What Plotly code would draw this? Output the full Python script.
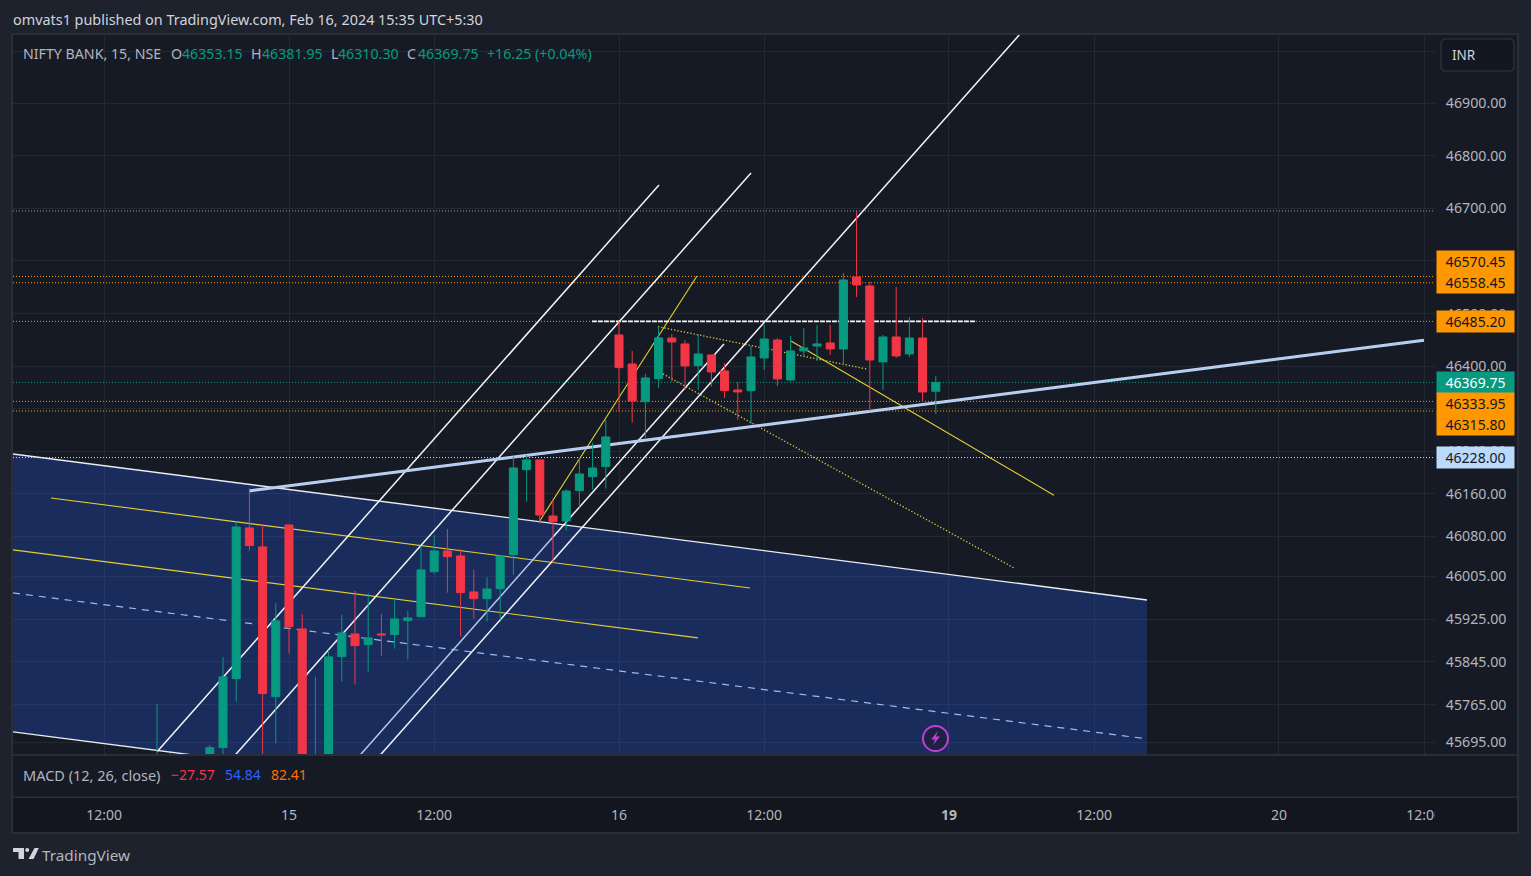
import numpy as np
import plotly.graph_objects as go

W, H = 1531, 876
FONT = "Noto Sans"

# ---------- data ----------
bar_index = list(range(-10, 50))
opens = [45550,45630,45610,45620,45620,45685.2,45813.7,46095.7,46060.1,45780,46101.3,45906.5,45640,45665,
         45854.8,45897.2,45877.2,45897.2,45895.9,45922,45929.5,46013.6,46052.6,46043.2,45975.7,45963.1,45981.9,
         46045.6,46205.3,46223.6,46118.2,46108.8,46165.7,46192.1,46211,46459.5,46404.7,46333.4,46376.9,46453.8,
         46442.5,46401.5,46421.7,46391.5,46355.5,46354.2,46416,46450,46374.4,46429.3,46438.7,46444.4,46433,
         46569.4,46552.3,46408.5,46455.7,46423.6,46453.8,46353.15]
highs = [45766.5,45675,45640,45650,45690,45853.7,46107.5,46170.2,46103.2,45954.5,46101.3,45934.5,45816.9,45867.3,
         45932.7,45977.6,45973.3,45934.5,45960.7,45940.2,46062.5,46082.2,46093.4,46055.8,46017,46003.3,46043.2,
         46229.8,46233,46223.6,46148.2,46168.4,46227.3,46256.2,46298.9,46486,46429.3,46385.8,46472.8,46461.4,
         46450,46460.8,46421.7,46406,46370,46438.7,46478.4,46453.8,46457.6,46472.8,46478.4,46478.4,46577,
         46694.8,46559.9,46459.5,46550.4,46493.5,46491.7,46381.95]
lows = [45520,45580,45590,45590,45600,45650,45770.7,46053.1,45660,45692.6,45860.4,45640,45620,45650,
        45808.1,45802.5,45826.8,45856.6,45869.7,45849.2,45929.5,46010,45974.4,45892.1,45925.8,45920.2,45923.3,
        46007.6,46145,46103.8,46029.5,46090.6,46134.5,46167.6,46169.5,46314.6,46293.8,46265,46359.3,46371.2,
        46356.8,46355.5,46361.7,46340.4,46298.9,46291.4,46393.3,46363.1,46372.5,46420.4,46410.4,46421.7,46402.8,
        46531.4,46315.9,46355.5,46416,46417.9,46332.8,46310.30]
closes = [45620,45600,45640,45600,45685,45816.9,46097.6,46062.5,45785.7,45921.5,45910.8,45660,45670,45854.2,
          45899,45875.3,45889.7,45895.3,45925.2,45927,46017,46052.6,46041.9,45974.4,45963.1,45981.3,46043.2,
          46208.5,46223.6,46120,46107.5,46165,46197.2,46208.5,46266.9,46397.7,46334.7,46378.2,46453.8,46446.3,
          46400.9,46423.6,46389.6,46354.2,46351.8,46417.9,46451.9,46376.3,46429.3,46434.9,46442.5,46433,46563.7,
          46554.2,46412.2,46455.7,46419.8,46453.8,46351.7,46369.75]

x_min, x_max = -20.91, 86.82
y_min, y_max = 45671.3, 47030.7

y_ticks = [47000,46900,46800,46700,46600,46500,46400,46320,46240,46160,46080,46005,45925,45845,45765,45695]
y_hidden = [47000, 46600, 46320]   # grid only: their labels sit behind the button and price tags
y_tick_labels = ["" if v in y_hidden else f"{v:.2f}" for v in y_ticks]
x_ticks = [-14, 0, 11, 25, 36, 50, 61, 75, 86]
x_tick_labels = ["12:00","15","12:00","16","12:00","<b>19</b>","12:00","20","12:00"]

# drawings: (bar index pair, price pair)
channel_x = [-20.91, 65.0]
channel_top = [46234.9, 45960.7]
channel_bottom = [45714.4, 45443.3]
channel_mid = [45973.8, 45701.4]
white_lines = [([-10, 28.03], [45677.2, 46744.2]),
               ([-4.47, 35.0], [45660.4, 46767.0]),
               ([20.0, 32.95], [46078.8, 46442.5]),
               ([6.52, 55.38], [45660.4, 47032.6])]
pale_line = ([5.0, 20.0], [45660.4, 46078.8])
yellow_lines = [([-18.03, 34.92], [46152.0, 45983.2]),
                ([-20.91, 30.98], [46054.5, 45889.7]),
                ([18.94, 30.91], [46107.0, 46571.3]),
                ([38.03, 57.95], [46448.2, 46157.3])]
yellow_dotted = [([27.95, 43.86], [46475.2, 46394.6]),
                 ([28.33, 54.92], [46385.8, 46020.7])]
trend_x = [-3.03, 85.98]
trend_y = [46165.2, 46449.5]
flat_x = [22.95, 52.05]
flat_y = [46485.2, 46485.2]
level_grey = 46694.8
levels_orange = [46570.45, 46558.45, 46485.20, 46333.95, 46315.80]
level_close = 46369.75
level_blue = 46228.00

price_tags = [("46570.45", 261.5, "#ff9800", "#131722"), ("46558.45", 282.5, "#ff9800", "#131722"),
              ("46485.20", 321.3, "#ff9800", "#131722"), ("46369.75", 382.5, "#089981", "#ffffff"),
              ("46333.95", 403.5, "#ff9800", "#131722"), ("46315.80", 424.5, "#ff9800", "#131722"),
              ("46228.00", 457.3, "#bbd9fb", "#131722")]
header = [("NIFTY BANK, 15, NSE", 21, "#b2b5be"), ("O", 169, "#b2b5be"), ("46353.15", 180, "#089981"),
          ("H", 249, "#b2b5be"), ("46381.95", 260, "#089981"), ("L", 329, "#b2b5be"), ("46310.30", 336, "#089981"),
          ("C", 405, "#b2b5be"), ("46369.75", 416, "#089981"), ("+16.25 (+0.04%)", 485, "#089981")]
macd = [("MACD (12, 26, close)", 21, 14.5, "#b2b5be"), ("\u221227.57", 169, 14, "#f23645"),
        ("54.84", 223, 14, "#2962ff"), ("82.41", 269, 14, "#ff6d00")]

# ---------- helpers (page pixels to paper fractions) ----------
PL, PR, PT, PB = 13, 1435, 35, 755
def px(x): return x / W
def py(y): return (H - y) / H
def rect(x0, y0, x1, y1, fill, line=None, lw=0, layer="below"):
    return dict(type="rect", xref="paper", yref="paper", x0=px(x0), x1=px(x1), y0=py(y0), y1=py(y1),
                fillcolor=fill, line=dict(color=line or fill, width=lw), layer=layer)
def poly(pts, fill, line=None, lw=0, layer="above"):
    d = "M " + " L ".join(f"{px(a)},{py(b)}" for a, b in pts) + " Z"
    return dict(type="path", xref="paper", yref="paper", path=d, fillcolor=fill,
                line=dict(color=line or fill, width=lw), layer=layer)
def rounded(x0, y0, x1, y1, r, fill, line, lw):
    p = lambda a, b: f"{px(a)},{py(b)}"
    d = (f"M {p(x0 + r, y0)} L {p(x1 - r, y0)} Q {p(x1, y0)} {p(x1, y0 + r)} L {p(x1, y1 - r)} "
         f"Q {p(x1, y1)} {p(x1 - r, y1)} L {p(x0 + r, y1)} Q {p(x0, y1)} {p(x0, y1 - r)} "
         f"L {p(x0, y0 + r)} Q {p(x0, y0)} {p(x0 + r, y0)} Z")
    return dict(type="path", xref="paper", yref="paper", path=d, fillcolor=fill,
                line=dict(color=line, width=lw), layer="above")
def txt(t, x, y, color, size=14, xanchor="left", **kw):
    return dict(text=t, xref="paper", yref="paper", x=px(x), y=py(y), xanchor=xanchor, yanchor="middle",
                showarrow=False, font=dict(family=FONT, size=size, color=color), **kw)

fig = go.Figure()
def line(x, y, color, width=1, dash="solid"):
    fig.add_trace(go.Scatter(x=x, y=y, mode="lines", line=dict(color=color, width=width, dash=dash),
                             hoverinfo="skip", showlegend=False, xaxis="x", yaxis="y"))

# channel fill
fig.add_trace(go.Scatter(x=channel_x + channel_x[::-1] + channel_x[:1],
                         y=channel_top + channel_bottom[::-1] + channel_top[:1],
                         mode="lines", fill="toself", fillcolor="rgba(41,98,255,0.25)",
                         line=dict(color="rgba(0,0,0,0)", width=0), hoverinfo="skip", showlegend=False,
                         xaxis="x", yaxis="y"))
# horizontal levels
for lv in levels_orange:
    line([x_min, x_max], [lv, lv], "#ff9800", 1, "1px,2px")
line([x_min, x_max], [level_grey, level_grey], "#9598a1", 1, "1px,2px")
line([x_min, x_max], [level_close, level_close], "#089981", 1, "1px,2px")
line([x_min, x_max], [level_blue, level_blue], "#cfe4fd", 1, "1px,2px")
# channel edges
line(channel_x, channel_top, "#e8ecf5", 1.4)
line(channel_x, channel_bottom, "#e8ecf5", 1.4)
line(channel_x, channel_mid, "#9dbcf0", 1.2, "7px,6px")
for xs, ys in yellow_dotted:
    line(xs, ys, "#e0cc30", 1.3, "1.3px,2px")
for xs, ys in yellow_lines:
    line(xs, ys, "#e6cf33", 1.1)
line(pale_line[0], pale_line[1], "#b3c8f2", 1.5)
for xs, ys in white_lines:
    line(xs, ys, "#f4f5f8", 1.5)
line(trend_x, trend_y, "#c9d3e8", 3)
line(trend_x, trend_y, "#a9cdfb", 1.3)
line(flat_x, flat_y, "#f4f5f8", 1.8, "5px,1px")

# candles on overlay axes so they sit above the drawings
fig.add_trace(go.Candlestick(x=bar_index, open=opens, high=highs, low=lows, close=closes,
                             increasing=dict(line=dict(color="#089981", width=1), fillcolor="#089981"),
                             decreasing=dict(line=dict(color="#f23645", width=1), fillcolor="#f23645"),
                             whiskerwidth=0, xaxis="x2", yaxis="y2", showlegend=False, hoverinfo="skip"))

shapes = [
    rect(12, 34, 1518, 833, "#161a25", "#2a2e39", 2),
    rect(13, 798, 1517, 832, "#13161f"),
    rect(13, 754, 1517, 756, "#2a2e39", layer="above"),
    rect(13, 796.5, 1517, 798, "#2a2e39", layer="above"),
    # clip the last time label at the chart edge
    rect(1435, 799, 1516, 831, "#13161f", layer="above"),
    # currency button
    rounded(1441, 39, 1514, 71, 5, "#131722", "#2a2e39", 1.5),
    # alert badge
    dict(type="circle", xref="paper", yref="paper", x0=px(923), x1=px(948), y0=py(726), y1=py(751),
         fillcolor="#1d2240", line=dict(color="#c13fd6", width=2), layer="above"),
    poly([(938, 731), (931, 739.5), (935, 739.5), (933, 745), (940, 736.5), (936, 736.5)], "#c13fd6"),
    # logo
    poly([(13, 848), (24, 848), (24, 859), (18.5, 859), (18.5, 852), (13, 852)], "#d1d4dc"),
    poly([(34.5, 848), (38.8, 848), (33.5, 859), (28.5, 859)], "#d1d4dc"),
    dict(type="circle", xref="paper", yref="paper", x0=px(25.2), x1=px(29.2), y0=py(848), y1=py(852),
         fillcolor="#d1d4dc", line=dict(width=0), layer="above"),
]

ann = [txt("omvats1 published on TradingView.com, Feb 16, 2024 15:35 UTC+5:30", 11, 19.5, "#d1d4dc", 14.4),
       txt("TradingView", 40, 854.5, "#b2b5be", 15.3),
       txt("INR", 1450, 55, "#d1d4dc", 13.5)]
for t, x, c in header:
    ann.append(txt(t, x, 53.5, c, 14.2))
for t, x, s, c in macd:
    ann.append(txt(t, x, 774.5, c, s))
for t, y, bg, fg in price_tags:
    ann.append(txt(t, 1436, y, fg, 14, bgcolor=bg, width=77, height=21, borderpad=0, align="center"))

fig.update_layout(
    width=W, height=H, autosize=False, margin=dict(l=0, r=0, t=0, b=0, pad=0),
    paper_bgcolor="#1e222d", plot_bgcolor="#161a25", showlegend=False, shapes=shapes, annotations=ann,
    font=dict(family=FONT, color="#b2b5be", size=14), dragmode=False, boxgap=0.39, boxgroupgap=0,
    xaxis=dict(domain=[PL / W, PR / W], range=[x_min, x_max], anchor="free", position=(H - 797) / H, automargin=False,
               tickmode="array", tickvals=x_ticks, ticktext=x_tick_labels, showgrid=True, gridcolor="#242833",
               gridwidth=1, zeroline=False, showline=False, ticks="outside", ticklen=5, tickcolor="rgba(0,0,0,0)",
               tickfont=dict(family=FONT, size=14, color="#b2b5be"), tickangle=0),
    yaxis=dict(domain=[(H - PB) / H, (H - PT) / H], type="log", range=[np.log10(y_min), np.log10(y_max)], automargin=False,
               anchor="x", side="right", tickmode="array", tickvals=y_ticks, ticktext=y_tick_labels,
               showgrid=True, gridcolor="#242833", gridwidth=1, zeroline=False, showline=False, ticks="outside",
               ticklen=7, tickcolor="rgba(0,0,0,0)", tickfont=dict(family=FONT, size=14.2, color="#b2b5be")),
    xaxis2=dict(domain=[PL / W, PR / W], range=[x_min, x_max], overlaying="x", anchor="y2", visible=False, automargin=False,
                rangeslider=dict(visible=False)),
    yaxis2=dict(domain=[(H - PB) / H, (H - PT) / H], type="log", range=[np.log10(y_min), np.log10(y_max)], automargin=False,
                overlaying="y", anchor="x2", visible=False),
)

fig.write_html("out.html", config=dict(displayModeBar=False),
               post_script="document.body.style.margin='0';document.body.style.overflow='hidden';")
